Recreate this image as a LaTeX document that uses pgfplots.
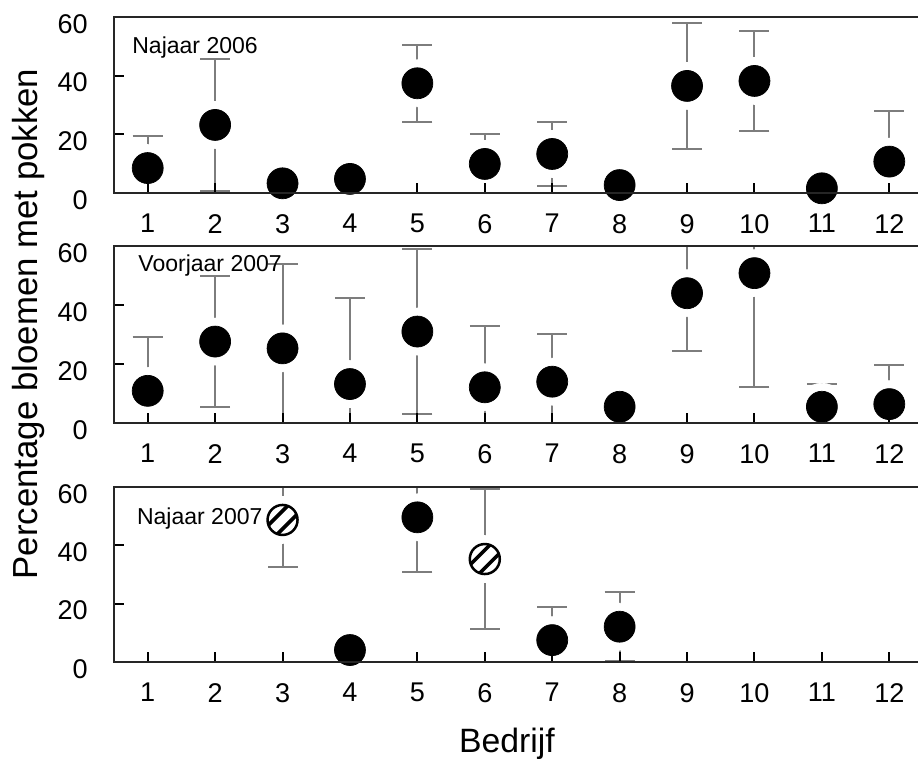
\documentclass[border=0pt]{standalone}
\usepackage{pgfplots}
\pgfplotsset{compat=1.18}
\usepackage{fontspec}
\setmainfont{Liberation Sans}
\definecolor{errgray}{RGB}{125,125,125}

% white circle with two black diagonal stripes
\pgfdeclareplotmark{hatched}{%
  \pgfpathcircle{\pgfpointorigin}{\pgfplotmarksize}%
  \pgfsetfillcolor{white}%
  \pgfusepathqfill
  \begin{pgfscope}
    \pgfpathcircle{\pgfpointorigin}{\pgfplotmarksize}%
    \pgfusepathqclip
    \pgfsetlinewidth{0.24\pgfplotmarksize}%
    \pgfsetstrokecolor{black}%
    \pgfpathmoveto{\pgfpoint{-1.8\pgfplotmarksize}{-1.2\pgfplotmarksize}}%
    \pgfpathlineto{\pgfpoint{1.2\pgfplotmarksize}{1.8\pgfplotmarksize}}%
    \pgfpathmoveto{\pgfpoint{-1.2\pgfplotmarksize}{-1.8\pgfplotmarksize}}%
    \pgfpathlineto{\pgfpoint{1.8\pgfplotmarksize}{1.2\pgfplotmarksize}}%
    \pgfusepathqstroke
  \end{pgfscope}
  \pgfsetlinewidth{0.05cm}%
  \pgfsetstrokecolor{black}%
  \pgfpathcircle{\pgfpointorigin}{\pgfplotmarksize}%
  \pgfusepathqstroke
}

\tikzset{lbl/.style={anchor=base west, font=\fontsize{13.1}{15}\selectfont}}

\pgfplotsset{
  panel/.style={
    scale only axis, width=16.18cm, anchor=south west,
    xmin=0.5, xmax=12.5, ymin=0, ymax=60,
    xtick={1,...,12}, ytick={0,20,40,60},
    xtick pos=left, ytick pos=left, tick align=inside,
    major tick length=0.2cm,
    every tick/.style={line width=0.04cm, black},
    axis line style={line width=0.05cm, black!85},
    set layers=axis on top,
    /pgf/number format/assume math mode=true,
    ticklabel style={font=\fontsize{15.4}{18}\selectfont},
    yticklabel style={xshift=-0.4cm, yshift=-0.14cm},
    xticklabel style={yshift=-0.3cm},
  },
  errs/.style={draw=none, forget plot,
    error bars/.cd, y dir=both, y explicit,
    error bar style={errgray, line width=0.04cm},
    error mark options={errgray, rotate=90, mark size=0.3cm, line width=0.04cm}},
  halo/.style={only marks, mark=*, mark size=0.47cm,
    mark options={fill=white, draw=white}, forget plot},
  dot/.style={only marks, mark=*, mark size=0.31cm,
    mark options={fill=black, draw=black}},
  hatch/.style={only marks, mark=hatched, mark size=0.30cm},
}

\pgfplotstableread{
x y e
1 8.5 11
2 23.2 22.5
3 3.3 0
4 4.8 0
5 37.4 13.1
6 9.9 10.1
7 13.3 11
8 2.7 0
9 36.5 21.6
10 38.2 16.9
11 1.6 0
12 10.7 17.4
}\najaarA

\pgfplotstableread{
x y e
1 10.9 18.1
2 27.6 22.2
3 25.3 28.5
4 13.2 29.3
5 31.0 28.0
6 12.1 20.8
7 14.0 16.2
8 5.5 0
9 44.0 19.5
10 50.8 38.5
11 5.5 7.7
12 6.4 13.3
}\voorjaar

\pgfplotstableread{
x y e
4 4.1 0
5 49.6 18.6
7 7.5 11.2
8 12.1 11.8
}\najaarBdot

\pgfplotstableread{
x y e
3 48.7 16
6 35.3 24
}\najaarBhatch

\begin{document}
\begin{tikzpicture}

\begin{axis}[panel, at={(2.28cm,11.36cm)}, height=3.52cm]
  \addplot[errs] table[x=x, y=y, y error=e] {\najaarA};
  \addplot[halo] table[x=x, y=y] {\najaarA};
  \addplot[dot] table[x=x, y=y] {\najaarA};
  \node[lbl] at (axis cs:0.68,47.7) {Najaar 2006};
\end{axis}

\begin{axis}[panel, at={(2.28cm,6.76cm)}, height=3.54cm]
  \addplot[errs] table[x=x, y=y, y error=e] {\voorjaar};
  \addplot[halo] table[x=x, y=y] {\voorjaar};
  \addplot[dot] table[x=x, y=y] {\voorjaar};
  \node[lbl] at (axis cs:0.77,51.5) {Voorjaar 2007};
\end{axis}

\begin{axis}[panel, at={(2.28cm,1.98cm)}, height=3.50cm]
  \addplot[errs] table[x=x, y=y, y error=e] {\najaarBdot};
  \addplot[errs] table[x=x, y=y, y error=e] {\najaarBhatch};
  \addplot[halo] table[x=x, y=y] {\najaarBdot};
  \addplot[halo] table[x=x, y=y] {\najaarBhatch};
  \addplot[dot] table[x=x, y=y] {\najaarBdot};
  \addplot[hatch] table[x=x, y=y] {\najaarBhatch};
  \node[lbl] at (axis cs:0.75,47.0) {Najaar 2007};
\end{axis}

\node[rotate=90, anchor=base, font=\fontsize{19.8}{23}\selectfont]
  at (0.74cm,8.74cm) {Percentage bloemen met pokken};
\node[anchor=base, font=\fontsize{19.2}{23}\selectfont]
  at (10.14cm,0.16cm) {Bedrijf};

\pgfresetboundingbox
\useasboundingbox (0,0) rectangle (18.36cm,15.22cm);
\end{tikzpicture}
\end{document}
